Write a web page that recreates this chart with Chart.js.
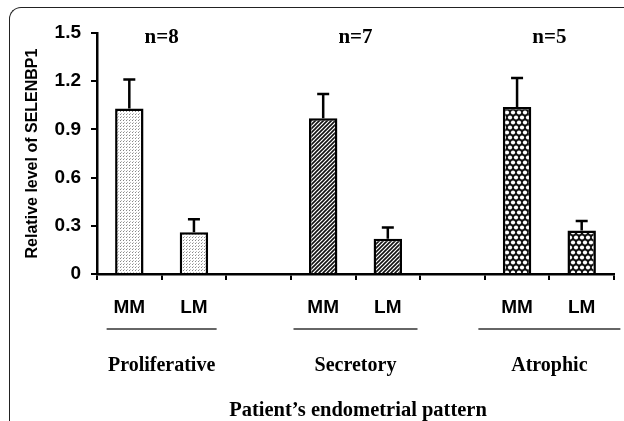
<!DOCTYPE html>
<html>
<head>
<meta charset="utf-8">
<script src="https://cdn.jsdelivr.net/npm/chart.js@4"></script>
<style>
  body { margin: 0; background: #fff; }
  #wrap { position: relative; width: 624px; height: 421px; overflow: hidden; }
  #frame {
    position: absolute; left: 9px; top: 7px; width: 640px; height: 440px;
    border-top: 1.5px solid #222; border-left: 1.5px solid #222;
    border-top-left-radius: 12px;
  }
  #chart { position: absolute; left: 0; top: 0; }
</style>
</head>
<body>
<div id="wrap">
  <div id="frame"></div>
  <canvas id="chart" width="624" height="421"></canvas>
</div>
<script>
// values
const categories = ['MM', 'LM', '', 'MM', 'LM', '', 'MM', 'LM'];
const groups = ['Proliferative', 'Secretory', 'Atrophic'];
const sampleSizes = ['n=8', 'n=7', 'n=5'];
const means = [1.03, 0.26, null, 0.97, 0.22, null, 1.04, 0.27];
const errors = [0.18, 0.08, null, 0.15, 0.07, null, 0.18, 0.06];
const yTicks = [0, 0.3, 0.6, 0.9, 1.2, 1.5];
const xTitle = 'Patient\u2019s endometrial pattern';
const yTitle = 'Relative level of SELENBP1';

function makePattern(kind) {
    let c = document.createElement('canvas');
    let g = c.getContext('2d');
    if (kind === 'dots') {
        c.width = 3; c.height = 3;
        g.fillStyle = '#fff'; g.fillRect(0, 0, 3, 3);
        g.fillStyle = '#888'; g.fillRect(0, 0, 1, 1);
        g.fillStyle = '#bbb'; g.fillRect(1, 2, 1, 1);
    } else if (kind === 'hatch') {
        c.width = 4; c.height = 4;
        g.fillStyle = '#fff'; g.fillRect(0, 0, 4, 4);
        g.strokeStyle = '#111'; g.lineWidth = 1.6;
        g.beginPath();
        g.moveTo(-1, 5); g.lineTo(5, -1);
        g.moveTo(-1, 1); g.lineTo(1, -1);
        g.moveTo(3, 5); g.lineTo(5, 3);
        g.stroke();
    } else {
        c.width = 6; c.height = 10;
        g.fillStyle = '#111'; g.fillRect(0, 0, 6, 10);
        g.fillStyle = '#fff';
        [[3, 2.5], [0, 7.5], [6, 7.5]].forEach(p => {
            g.beginPath(); g.arc(p[0], p[1], 2.1, 0, Math.PI * 2); g.fill();
        });
    }
    return document.createElement('canvas').getContext('2d').createPattern(c, 'repeat');
}

const groupFills = [makePattern('dots'), makePattern('hatch'), makePattern('circles')];
let fills = categories.map((c, i) => groupFills[Math.floor(i / 3)]);

const serif = '"Liberation Serif", "Times New Roman", serif';
const sans = '"Liberation Sans", Arial, sans-serif';

const extras = {
    id: 'extras',
    afterDatasetsDraw(chart) {
        let ctx = chart.ctx;
        let x = chart.scales.x, y = chart.scales.y;
        let meta = chart.getDatasetMeta(0);
        ctx.save();
        // error bars (upper half only)
        ctx.strokeStyle = '#000';
        ctx.lineWidth = 2.5;
        means.forEach((m, i) => {
            if (m === null) return;
            let bx = meta.data[i].x;
            let top = y.getPixelForValue(m + errors[i]);
            ctx.beginPath();
            ctx.moveTo(bx, meta.data[i].y);
            ctx.lineTo(bx, top);
            ctx.moveTo(bx - 6, top);
            ctx.lineTo(bx + 6, top);
            ctx.stroke();
        });
        // n= labels, group underlines and names
        let lineHalf = [55, 62, 71];
        groups.forEach((name, gi) => {
            let cx = (x.getPixelForValue(gi * 3) + x.getPixelForValue(gi * 3 + 1)) / 2;
            ctx.fillStyle = '#000';
            ctx.textAlign = 'center';
            ctx.textBaseline = 'middle';
            ctx.font = 'bold 21px ' + serif;
            ctx.fillText(sampleSizes[gi], cx, 38);
            ctx.strokeStyle = '#333';
            ctx.lineWidth = 1.5;
            ctx.beginPath();
            ctx.moveTo(cx - lineHalf[gi], 329);
            ctx.lineTo(cx + lineHalf[gi], 329);
            ctx.stroke();
            ctx.font = 'bold 20px ' + serif;
            ctx.fillText(name, cx, 366);
        });
        ctx.font = 'bold 20.5px ' + serif;
        ctx.fillText(xTitle, 358, 411);
        ctx.restore();
    }
};

new Chart(document.getElementById('chart'), {
    type: 'bar',
    data: {
        labels: categories,
        datasets: [{
            data: means,
            backgroundColor: fills,
            borderColor: '#000',
            borderWidth: 2.5,
            borderSkipped: 'bottom',
            categoryPercentage: 1,
            barPercentage: 0.44
        }]
    },
    options: {
        responsive: false,
        devicePixelRatio: 1,
        animation: false,
        layout: { padding: { left: 0, right: 10, top: 33, bottom: 0 } },
        plugins: { legend: { display: false }, tooltip: { enabled: false } },
        scales: {
            x: {
                offset: true,
                afterFit(scale) { scale.height = 147; },
                grid: { offset: true, drawOnChartArea: false, tickLength: 6, lineWidth: 2, color: '#000' },
                border: { display: true, width: 2.5, color: '#000' },
                ticks: { color: '#000', padding: 16, font: { family: sans, size: 19, weight: 'bold' } }
            },
            y: {
                min: 0,
                max: 1.5,
                afterFit(scale) { scale.width = 97; },
                afterBuildTicks(scale) { scale.ticks = yTicks.map(v => ({ value: v })); },
                grid: { drawOnChartArea: false, tickLength: 6, lineWidth: 2, color: '#000' },
                border: { display: true, width: 2.5, color: '#000' },
                ticks: {
                    color: '#000', padding: 10,
                    font: { family: sans, size: 19, weight: 'bold' },
                    callback: v => v === 0 ? '0' : v.toFixed(1)
                },
                title: {
                    display: true, text: yTitle, color: '#000',
                    font: { family: sans, size: 16, weight: 'bold' },
                    padding: { top: 23, bottom: 0 }
                }
            }
        }
    },
    plugins: [extras]
});
</script>
</body>
</html>
